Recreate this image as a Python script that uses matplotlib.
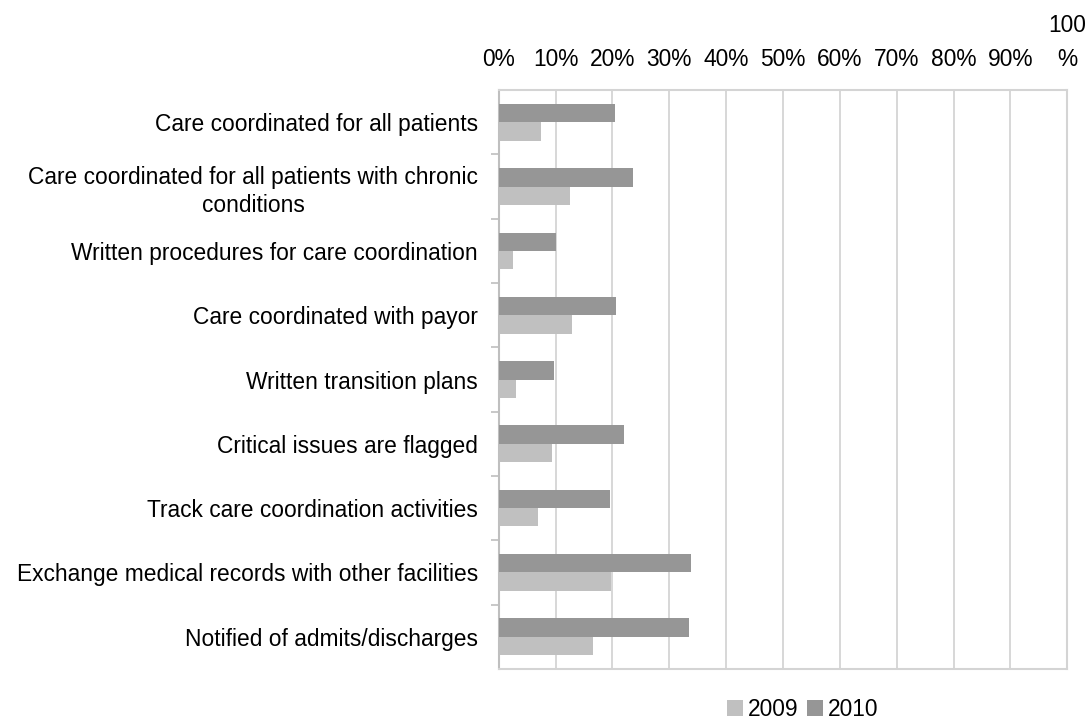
import numpy as np
import matplotlib
matplotlib.use('Agg')
import matplotlib.pyplot as plt
from matplotlib.ticker import FixedLocator

plt.rcParams['font.family'] = ['Liberation Sans', 'DejaVu Sans']

categorias = [
    'Care coordinated for all patients',
    'Care coordinated for all patients with chronic\nconditions',
    'Written procedures for care coordination',
    'Care coordinated with payor',
    'Written transition plans',
    'Critical issues are flagged',
    'Track care coordination activities',
    'Exchange medical records with other facilities',
    'Notified of admits/discharges',
]
valores_2009 = [7.4, 12.6, 2.5, 12.9, 3.1, 9.4, 6.9, 19.8, 16.6]
valores_2010 = [20.5, 23.7, 10.1, 20.7, 9.8, 22.1, 19.5, 33.8, 33.4]
rotulos_x = ['0%', '10%', '20%', '30%', '40%', '50%', '60%', '70%', '80%', '90%', '100\n%']

cor_2009 = '#c0c0c0'
cor_2010 = '#969696'
cor_grade = '#d4d4d4'
tamanho = 16.4

fig = plt.figure(figsize=(10.89, 7.23), dpi=100)
ax = fig.add_axes([0.458, 0.0747, 0.522, 0.8008])

pos = np.arange(len(categorias)) + 0.5
altura = 0.285
ax.barh(pos - altura / 2, valores_2010, height=altura, color=cor_2010, label='2010', zorder=3)
ax.barh(pos + altura / 2, valores_2009, height=altura, color=cor_2009, label='2009', zorder=3)

ax.set_xlim(0, 100)
ax.set_ylim(len(categorias), 0)

# eixo x no topo
ax.xaxis.tick_top()
ax.set_xticks(np.arange(0, 101, 10))
ax.set_xticklabels(rotulos_x, linespacing=1.6)
ax.tick_params(axis='x', length=0, pad=14, labelsize=tamanho, colors='black')
ax.grid(axis='x', color=cor_grade, linewidth=1.3, zorder=0)

# marcas entre categorias, rotulos no centro
ax.yaxis.set_major_locator(FixedLocator(np.arange(1, len(categorias))))
ax.yaxis.set_minor_locator(FixedLocator(pos))
ax.set_yticklabels([], minor=False)
ax.set_yticklabels(categorias, minor=True, multialignment='center', linespacing=1.25)
ax.tick_params(axis='y', which='major', length=6, width=1.2, color='#bfbfbf', direction='out')
ax.tick_params(axis='y', which='minor', length=0, pad=15, labelsize=tamanho)

for lado in ['top', 'right', 'bottom']:
    ax.spines[lado].set_color(cor_grade)
    ax.spines[lado].set_linewidth(1.5)
ax.spines['left'].set_color('#bfbfbf')
ax.spines['left'].set_linewidth(1.5)

handles, labels = ax.get_legend_handles_labels()
fig.legend(handles[::-1], labels[::-1], loc='center', bbox_to_anchor=(0.737, 0.019),
           ncol=2, frameon=False, fontsize=tamanho, handlelength=0.7, handleheight=0.7,
           handletextpad=0.2, columnspacing=0.4)

fig.savefig('out.png', dpi=100)
plt.close(fig)
